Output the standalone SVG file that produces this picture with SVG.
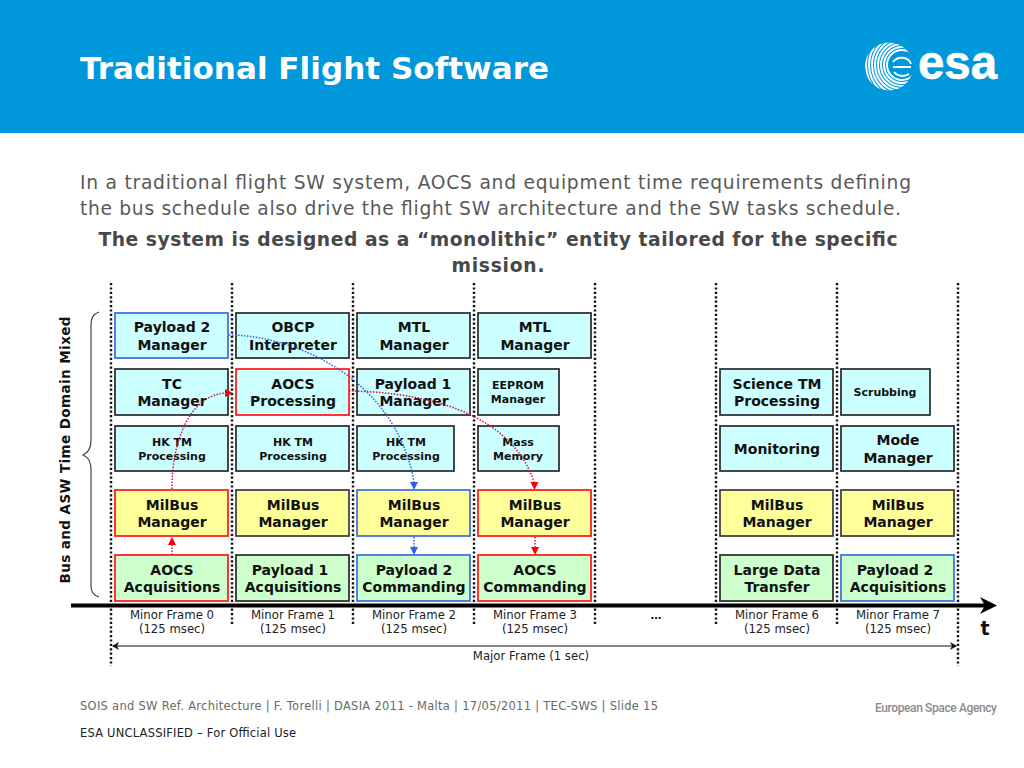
<svg xmlns="http://www.w3.org/2000/svg" width="1024" height="768" viewBox="0 0 1024 768">
<style>
text{font-family:"DejaVu Sans",Verdana,sans-serif}
.b{font-weight:bold;font-size:14px;fill:#111;text-anchor:middle}
.s{font-weight:bold;font-size:11px;fill:#111;text-anchor:middle}
.f{font-size:11.700px;fill:#222;text-anchor:middle}
.c{fill:#ccffff;stroke:#333;stroke-width:1.800}
.y{fill:#ffff99;stroke:#444;stroke-width:1.800}
.g{fill:#ccffcc;stroke:#333;stroke-width:1.800}
.red{stroke:#ff2020}
.blue{stroke:#4472e0}
.grid{stroke:#111;stroke-width:2.400;stroke-dasharray:2.200 2.200;fill:none}
.cr{fill:none;stroke:#d8103c;stroke-width:1.500;stroke-dasharray:1.500 1.500}
.cb{fill:none;stroke:#2f62e0;stroke-width:1.500;stroke-dasharray:1.500 1.500}
.arc{fill:none;stroke:#fff;stroke-width:2}
</style>
<defs>
<clipPath id="ball"><circle cx="889" cy="66.500" r="24"/></clipPath>
</defs>
<rect width="1024" height="768" fill="#fff"/>
<rect width="1024" height="133" fill="#0098db"/>
<text x="80" y="79" font-size="31" font-weight="bold" fill="#fff" textLength="469">Traditional Flight Software</text>
<g id="logo">
<g clip-path="url(#ball)">
<circle class="arc" cx="902" cy="65" r="15"/><circle class="arc" cx="902" cy="65" r="18"/><circle class="arc" cx="902" cy="65" r="21"/><circle class="arc" cx="902" cy="65" r="24"/><circle class="arc" cx="902" cy="65" r="27"/><circle class="arc" cx="902" cy="65" r="30"/><circle class="arc" cx="902" cy="65" r="33"/><circle class="arc" cx="902" cy="65" r="36"/>
</g>
<path d="M893 62a10 9 0 0 1 18 2M893 67h18M894 72a10 8 0 0 0 15 2" fill="none" stroke="#fff" stroke-width="2"/>
<text x="918" y="79" font-size="48" font-weight="bold" fill="#fff" stroke="#fff" stroke-width=".6" textLength="79" lengthAdjust="spacingAndGlyphs" style="font-family:'Liberation Sans',Arial,sans-serif">esa</text>
</g>
<text x="80" y="189" font-size="18.700" fill="#595959" textLength="831">In a traditional flight SW system, AOCS and equipment time requirements defining</text>
<text x="80" y="215" font-size="18.700" fill="#595959" textLength="821">the bus schedule also drive the flight SW architecture and the SW tasks schedule.</text>
<text x="498" y="246" font-size="18.700" font-weight="bold" fill="#484848" text-anchor="middle" textLength="799">The system is designed as a “monolithic” entity tailored for the specific</text>
<text x="498" y="272" font-size="18.700" font-weight="bold" fill="#484848" text-anchor="middle" textLength="93">mission.</text>
<text transform="translate(69.500 450) rotate(-90)" font-size="13.500" font-weight="bold" fill="#111" text-anchor="middle" textLength="267">Bus and ASW Time Domain Mixed</text>
<path id="brace" d="M99 312C93 314 91 318 91 326V440C91 448 88 453 83 455C88 457 91 462 91 470V584C91 592 93 595 99 597" fill="none" stroke="#444" stroke-width="1.200"/>
<g id="connectors">
<path class="grid" d="M111 283V666M232 283V626M353 283V626M474 283V626M595 283V626M716 283V626M837 283V626M958 283V666"/>
<path d="M71 605.500H985" stroke="#000" stroke-width="4" fill="none"/>
<path d="M980 597L997 605.500L980 614L985 605.500Z" fill="#000"/>
<path d="M113 646H956" stroke="#111" stroke-width="1.200" fill="none"/>
<path d="M112 646L119 642L117 646L119 650ZM957 646L950 642L952 646L950 650Z" fill="#111"/>
</g>
<g id="n-payload2-mgr"><rect class="c blue" x="115" y="313" width="113" height="45"/><text class="b" x="172" y="332">Payload 2</text><text class="b" x="172" y="350">Manager</text></g>
<g id="n-obcp"><rect class="c" x="236" y="313" width="113" height="45"/><text class="b" x="293" y="332">OBCP</text><text class="b" x="293" y="350">Interpreter</text></g>
<g id="n-mtl-2"><rect class="c" x="357" y="313" width="113" height="45"/><text class="b" x="414" y="332">MTL</text><text class="b" x="414" y="350">Manager</text></g>
<g id="n-mtl-3"><rect class="c" x="478" y="313" width="113" height="45"/><text class="b" x="535" y="332">MTL</text><text class="b" x="535" y="350">Manager</text></g>
<g id="n-tc"><rect class="c" x="115" y="369" width="113" height="46"/><text class="b" x="172" y="389">TC</text><text class="b" x="172" y="406">Manager</text></g>
<g id="n-aocs-proc"><rect class="c red" x="236" y="369" width="113" height="46"/><text class="b" x="293" y="389">AOCS</text><text class="b" x="293" y="406">Processing</text></g>
<g id="n-payload1-mgr"><rect class="c" x="357" y="369" width="113" height="46"/><text class="b" x="413" y="389">Payload 1</text><text class="b" x="414" y="406">Manager</text></g>
<g id="n-eeprom"><rect class="c" x="478" y="369" width="81" height="46"/><text class="s" x="518" y="389">EEPROM</text><text class="s" x="518" y="403">Manager</text></g>
<g id="n-science"><rect class="c" x="720" y="369" width="113" height="46"/><text class="b" x="777" y="389">Science TM</text><text class="b" x="777" y="406">Processing</text></g>
<g id="n-scrub"><rect class="c" x="841" y="369" width="89" height="46"/><text class="s" x="885" y="396">Scrubbing</text></g>
<g id="n-hk0"><rect class="c" x="115" y="426" width="113" height="45"/><text class="s" x="172" y="446">HK TM</text><text class="s" x="172" y="460">Processing</text></g>
<g id="n-hk1"><rect class="c" x="236" y="426" width="113" height="45"/><text class="s" x="293" y="446">HK TM</text><text class="s" x="293" y="460">Processing</text></g>
<g id="n-hk2"><rect class="c" x="357" y="426" width="97" height="45"/><text class="s" x="406" y="446">HK TM</text><text class="s" x="406" y="460">Processing</text></g>
<g id="n-mass"><rect class="c" x="478" y="426" width="81" height="45"/><text class="s" x="518" y="446">Mass</text><text class="s" x="518" y="460">Memory</text></g>
<g id="n-monitoring"><rect class="c" x="720" y="426" width="113" height="45"/><text class="b" x="777" y="454">Monitoring</text></g>
<g id="n-mode"><rect class="c" x="841" y="426" width="113" height="45"/><text class="b" x="898" y="445">Mode</text><text class="b" x="898" y="463">Manager</text></g>
<g id="n-mil0"><rect class="y red" x="115" y="490" width="113" height="46"/><text class="b" x="172" y="510">MilBus</text><text class="b" x="172" y="527">Manager</text></g>
<g id="n-mil1"><rect class="y" x="236" y="490" width="113" height="46"/><text class="b" x="293" y="510">MilBus</text><text class="b" x="293" y="527">Manager</text></g>
<g id="n-mil2"><rect class="y blue" x="357" y="490" width="113" height="46"/><text class="b" x="414" y="510">MilBus</text><text class="b" x="414" y="527">Manager</text></g>
<g id="n-mil3"><rect class="y red" x="478" y="490" width="113" height="46"/><text class="b" x="535" y="510">MilBus</text><text class="b" x="535" y="527">Manager</text></g>
<g id="n-mil6"><rect class="y" x="720" y="490" width="113" height="46"/><text class="b" x="777" y="510">MilBus</text><text class="b" x="777" y="527">Manager</text></g>
<g id="n-mil7"><rect class="y" x="841" y="490" width="113" height="46"/><text class="b" x="898" y="510">MilBus</text><text class="b" x="898" y="527">Manager</text></g>
<g id="n-aocs-acq"><rect class="g red" x="115" y="555" width="113" height="46"/><text class="b" x="172" y="575">AOCS</text><text class="b" x="172" y="592">Acquisitions</text></g>
<g id="n-p1-acq"><rect class="g" x="236" y="555" width="113" height="46"/><text class="b" x="290" y="575">Payload 1</text><text class="b" x="293" y="592">Acquisitions</text></g>
<g id="n-p2-cmd"><rect class="g blue" x="357" y="555" width="113" height="46"/><text class="b" x="414" y="575">Payload 2</text><text class="b" x="414" y="592">Commanding</text></g>
<g id="n-aocs-cmd"><rect class="g red" x="478" y="555" width="113" height="46"/><text class="b" x="535" y="575">AOCS</text><text class="b" x="535" y="592">Commanding</text></g>
<g id="n-large"><rect class="g" x="720" y="555" width="113" height="46"/><text class="b" x="777" y="575">Large Data</text><text class="b" x="777" y="592">Transfer</text></g>
<g id="n-p2-acq"><rect class="g blue" x="841" y="555" width="113" height="46"/><text class="b" x="895" y="575">Payload 2</text><text class="b" x="898" y="592">Acquisitions</text></g>
<g id="flows">
<path class="cr" d="M172 489C172 440 190 395 226 393"/>
<path d="M233 393L225 389V397Z" fill="#ff0000"/>
<path class="cr" d="M349 391C420 392 510 410 534 482"/>
<path d="M534.500 490L530.500 482H538.500Z" fill="#ff0000"/>
<path class="cb" d="M229 335C290 335 395 375 414 482"/>
<path d="M414 490L410 482H418Z" fill="#2f62e0"/>
<path class="cr" d="M172 555V545"/>
<path d="M172 537L168 545H176Z" fill="#ff0000"/>
<path class="cb" d="M414 537V548"/>
<path d="M414 555L410 547H418Z" fill="#2f62e0"/>
<path class="cr" d="M535 537V548"/>
<path d="M535 555L531 547H539Z" fill="#ff0000"/>
</g>
<g id="labels">
<text class="f" x="172" y="619">Minor Frame 0</text><text class="f" x="172" y="633">(125 msec)</text>
<text class="f" x="293" y="619">Minor Frame 1</text><text class="f" x="293" y="633">(125 msec)</text>
<text class="f" x="414" y="619">Minor Frame 2</text><text class="f" x="414" y="633">(125 msec)</text>
<text class="f" x="535" y="619">Minor Frame 3</text><text class="f" x="535" y="633">(125 msec)</text>
<text class="s" x="656" y="619">…</text>
<text class="f" x="777" y="619">Minor Frame 6</text><text class="f" x="777" y="633">(125 msec)</text>
<text class="f" x="898" y="619">Minor Frame 7</text><text class="f" x="898" y="633">(125 msec)</text>
<text class="f" x="531" y="660">Major Frame (1 sec)</text>
<text x="985" y="635" font-size="19" font-weight="bold" fill="#111" text-anchor="middle">t</text>
</g>
<text x="80" y="710" font-size="11.500" fill="#6a6a6a" textLength="578">SOIS and SW Ref. Architecture | F. Torelli | DASIA 2011 - Malta | 17/05/2011 | TEC-SWS | Slide 15</text>
<text x="80" y="737" font-size="11.500" fill="#222" textLength="216">ESA UNCLASSIFIED – For Official Use</text>
<text x="875" y="712" font-size="12" font-weight="500" fill="#8c8c8c" textLength="122" style="font-family:Roboto,sans-serif">European Space Agency</text>
</svg>
